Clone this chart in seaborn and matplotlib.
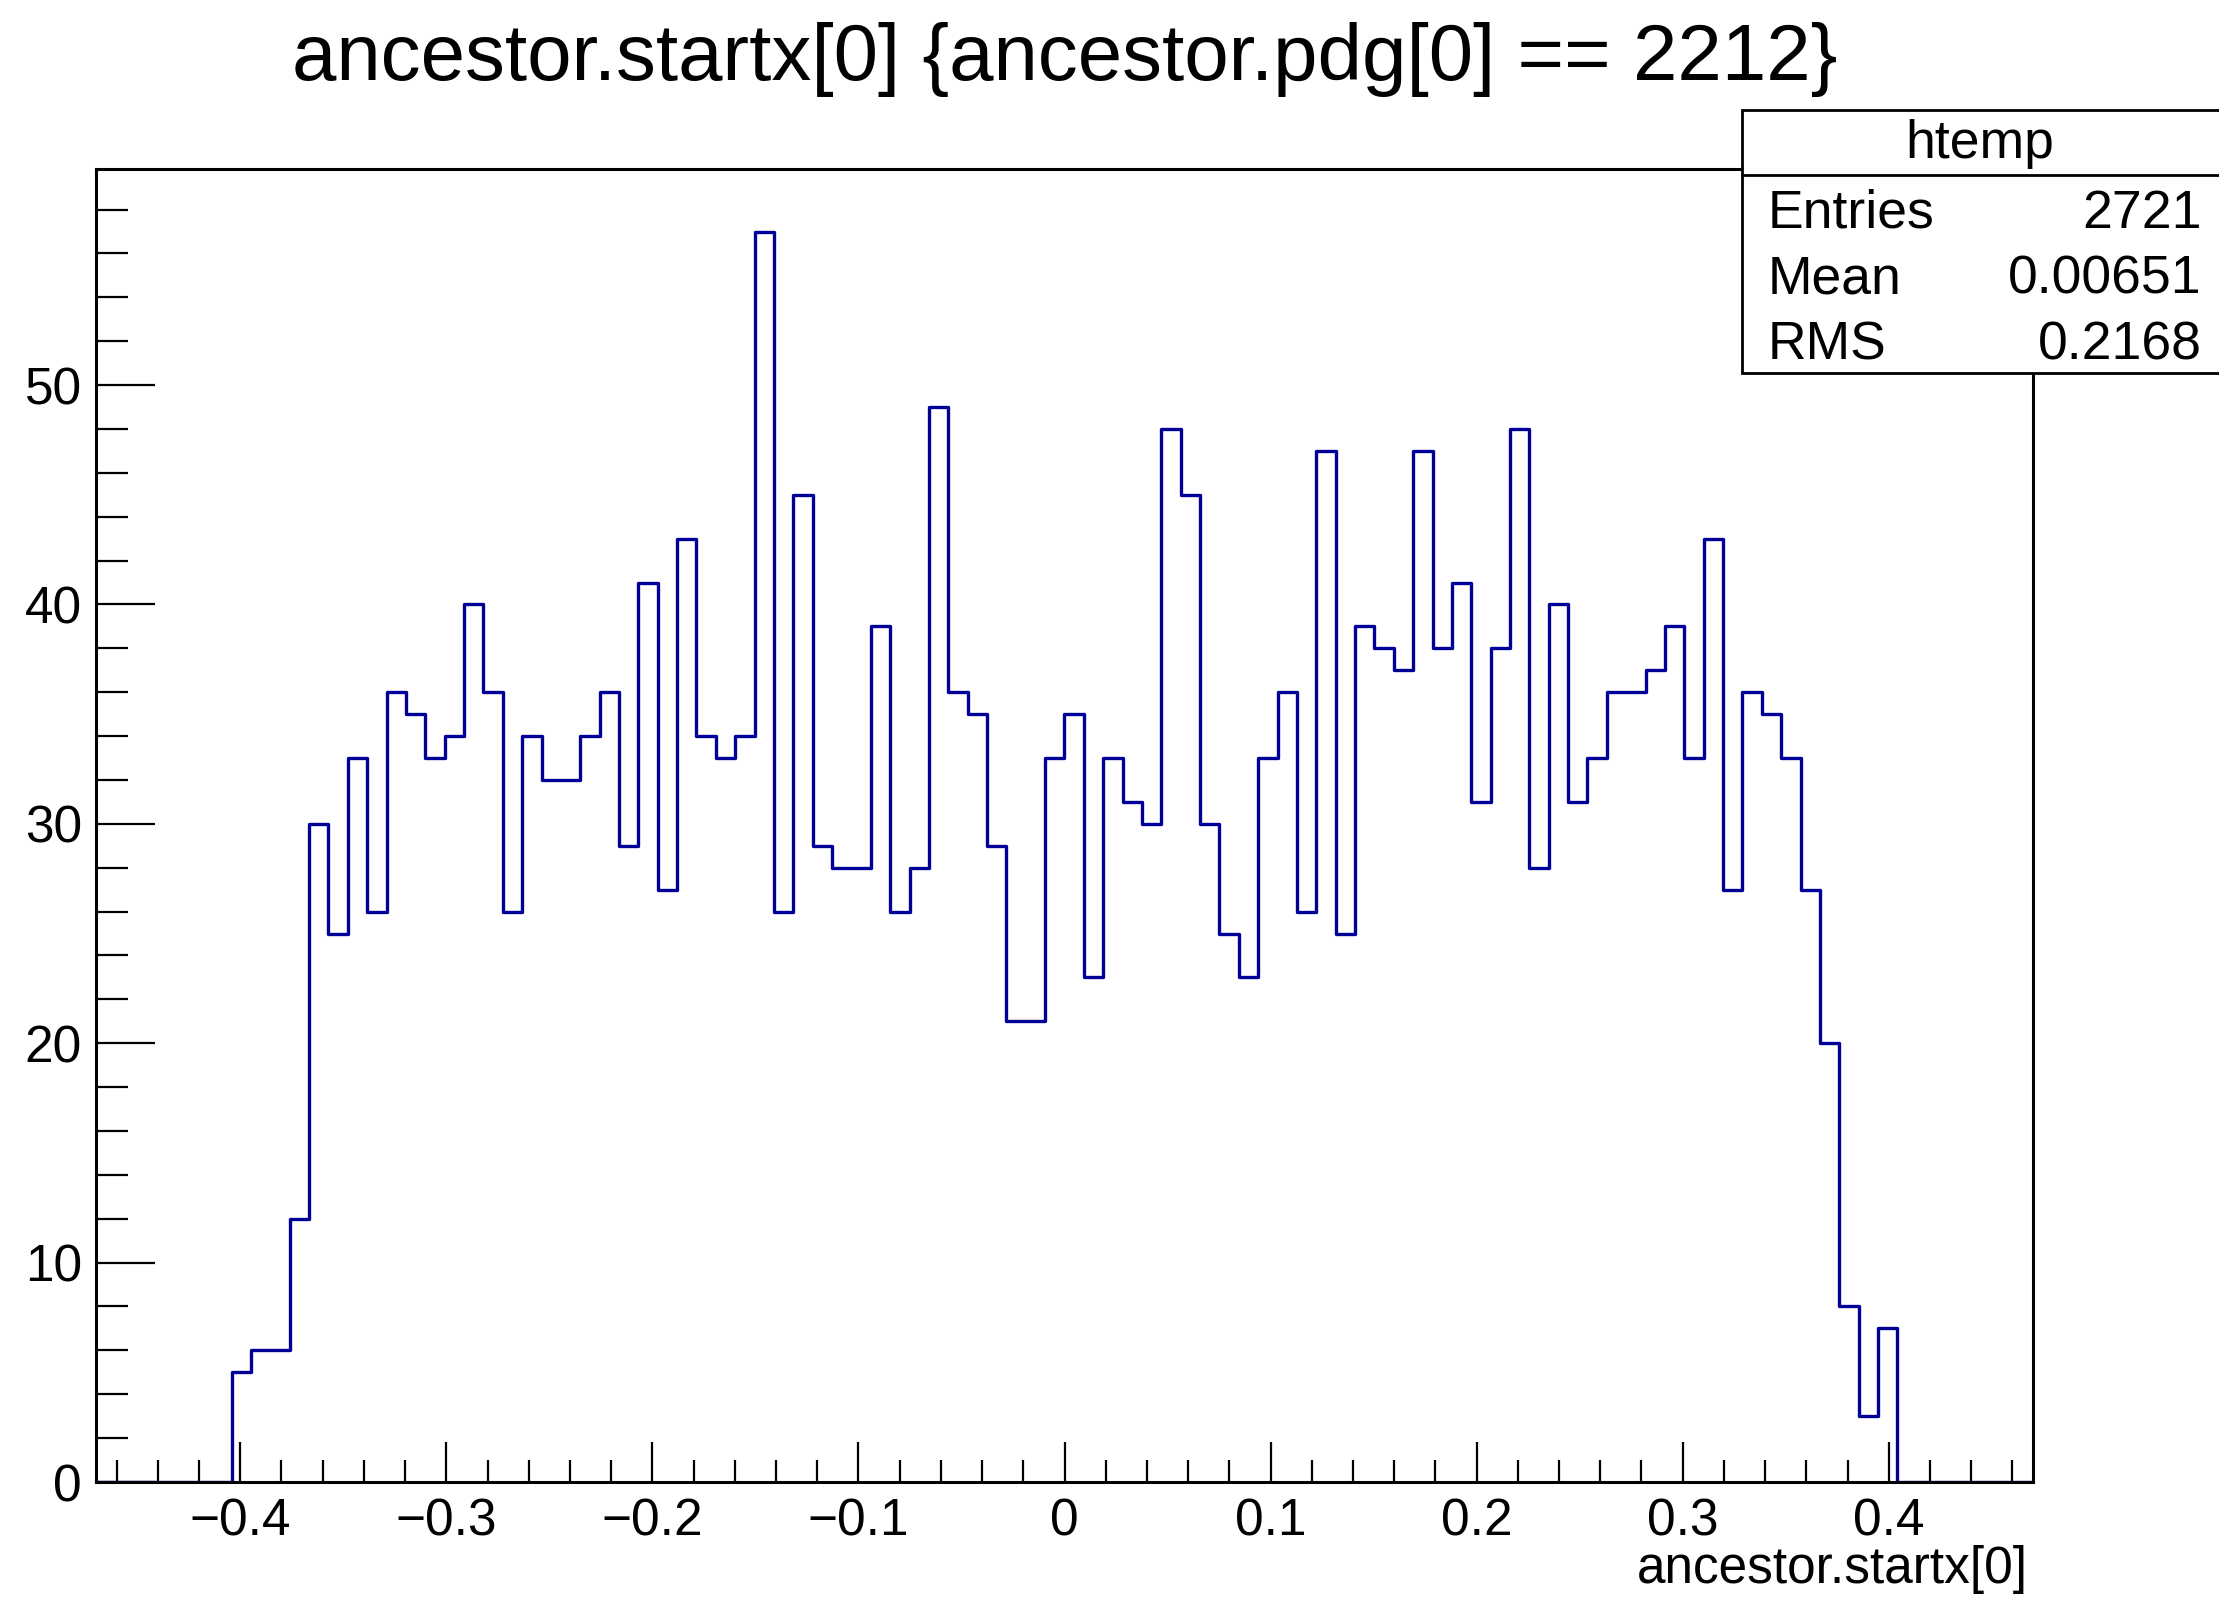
import numpy as np
import pandas as pd
import matplotlib
matplotlib.use("Agg")
import matplotlib.pyplot as plt
import seaborn as sns
from matplotlib.ticker import MultipleLocator, FuncFormatter
from matplotlib.patches import Rectangle
from matplotlib.lines import Line2D

# histogram settings (ROOT htemp, 100 bins)
x_lo, x_hi, n_bins = -0.47, 0.47, 100

# bin contents, left to right
counts = [0, 0, 0, 0, 0, 0, 0,
          5, 6, 6, 12, 30, 25, 33, 26, 36, 35,
          33, 34, 40, 36, 26, 34, 32, 32, 34, 36,
          29, 41, 27, 43, 34, 33, 34, 57, 26, 45,
          29, 28, 28, 39, 26, 28, 49, 36, 35, 29,
          21, 21, 33, 35, 23, 33, 31, 30, 48, 45,
          30, 25, 23, 33, 36, 26, 47, 25, 39, 38,
          37, 47, 38, 41, 31, 38, 48, 28, 40, 31,
          33, 36, 36, 37, 39, 33, 43, 27, 36, 35,
          33, 27, 20, 8, 3, 7,
          0, 0, 0, 0, 0, 0, 0]

title = "ancestor.startx[0] {ancestor.pdg[0] == 2212}"
x_title = "ancestor.startx[0]"
stat_name = "htemp"
stat_labels = ["Entries", "Mean", "RMS"]
stat_values = ["2721", "0.00651", "0.2168"]

W, H = 2219, 1599

sns.set_style("white")
plt.rcParams['font.family'] = ['Liberation Sans', 'DejaVu Sans']
plt.rcParams['text.color'] = 'black'

fig = plt.figure(figsize=(W / 100, H / 100), dpi=100)
ax = fig.add_axes([96 / W, 1 - 1482 / H, (2033 - 96) / W, (1482 - 169) / H])

edges = np.linspace(x_lo, x_hi, n_bins + 1)
df = pd.DataFrame({"x": (edges[:-1] + edges[1:]) / 2, "n": counts})
sns.histplot(data=df, x="x", weights="n", bins=n_bins, binrange=(x_lo, x_hi),
             element="step", fill=False, color="#000099", linewidth=2.4, ax=ax)

ax.set_xlim(x_lo, x_hi)
ax.set_ylim(0, max(counts) * 1.05)
ax.set_xlabel("")
ax.set_ylabel("")

for s in ax.spines.values():
    s.set_linewidth(2.2)
    s.set_color("black")
    s.set_zorder(3)

ax.xaxis.set_major_locator(MultipleLocator(0.1))
ax.xaxis.set_minor_locator(MultipleLocator(0.02))
ax.yaxis.set_major_locator(MultipleLocator(10))
ax.yaxis.set_minor_locator(MultipleLocator(2))


def fmt(v, pos):
    return f"{round(v, 2) + 0.0:g}".replace("-", "\u2212")


ax.xaxis.set_major_formatter(FuncFormatter(fmt))
ax.tick_params(which="both", direction="in", bottom=True, left=True, top=False, right=False,
               color="black", width=1.6, labelsize=37, labelcolor="black")
ax.tick_params(axis="x", which="major", length=28.8, pad=11)
ax.tick_params(axis="x", which="minor", length=15.8)
ax.tick_params(axis="y", which="major", length=42.5, pad=10)
ax.tick_params(axis="y", which="minor", length=23)

fig.text(1065 / W, 1 - 80 / H, title, ha="center", va="baseline", fontsize=57.5, color="black")
fig.text(2028 / W, 1 - 1583 / H, x_title, ha="right", va="baseline", fontsize=37, color="black")

# stats box
bx0, by_top, by_bot, by_sep = 1742, 110, 373, 175
fig.add_artist(Rectangle((bx0 / W, 1 - by_bot / H), (W + 20 - bx0) / W, (by_bot - by_top) / H,
                         transform=fig.transFigure, facecolor="white", edgecolor="black",
                         linewidth=2.0, zorder=5))
fig.add_artist(Line2D([bx0 / W, 1.01], [1 - by_sep / H] * 2, transform=fig.transFigure,
                      color="black", linewidth=2.0, zorder=6))
fig.text(1980 / W, 1 - 158 / H, stat_name, ha="center", va="baseline", fontsize=38.5,
         color="black", zorder=7)
for i, (lab, val) in enumerate(zip(stat_labels, stat_values)):
    yb = 1 - (228 + 66 * i) / H
    fig.text(1768 / W, yb, lab, ha="left", va="baseline", fontsize=38.5, color="black", zorder=7)
    fig.text(2202 / W, yb, val, ha="right", va="baseline", fontsize=38.5, color="black", zorder=7)

fig.savefig("out.png", dpi=100)
